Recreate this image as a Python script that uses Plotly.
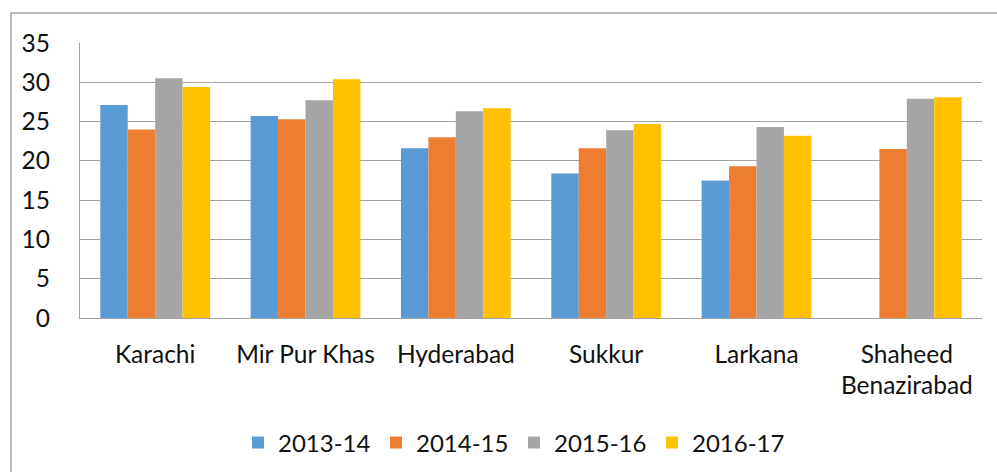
import plotly.graph_objects as go

categories = ["Karachi", "Mir Pur Khas", "Hyderabad", "Sukkur", "Larkana", "Shaheed<br>Benazirabad"]
series_names = ["2013-14", "2014-15", "2015-16", "2016-17"]
v_2013_14 = [27.1, 25.7, 21.6, 18.4, 17.5, None]
v_2014_15 = [24.0, 25.3, 23.0, 21.6, 19.3, 21.5]
v_2015_16 = [30.5, 27.7, 26.3, 23.9, 24.3, 27.9]
v_2016_17 = [29.4, 30.4, 26.7, 24.7, 23.2, 28.1]
y_ticks = [0, 5, 10, 15, 20, 25, 30, 35]

series_values = [v_2013_14, v_2014_15, v_2015_16, v_2016_17]
colors = ["#5B9BD5", "#ED7D31", "#A5A5A5", "#FFC000"]

FONT = "Lato"
FS = 24.5
W, H = 997, 472
L, R, T, B = 80, 15, 43, 154

fig = go.Figure()
for name, vals, col in zip(series_names, series_values, colors):
    fig.add_trace(go.Bar(x=categories, y=vals, name=name,
                         marker=dict(color=col, line=dict(width=0))))

grid = "#a3a3a3"
fig.update_layout(
    width=W, height=H,
    margin=dict(l=L, r=R, t=T, b=B, pad=0, autoexpand=False),
    paper_bgcolor="white", plot_bgcolor="white",
    barmode="group", bargap=0.27, bargroupgap=0,
    font=dict(family=FONT, size=FS, color="#111111"),
    showlegend=True,
    legend=dict(orientation="h", x=(254 - 80 - 16) / 902, xanchor="left",
                y=(318 - 443) / 275, yanchor="middle",
                font=dict(family=FONT, size=24, color="#111111"),
                entrywidth=93, bgcolor="rgba(0,0,0,0)", traceorder="normal"),
    xaxis=dict(showgrid=False, showline=True, linecolor=grid, linewidth=1.4,
               ticks="", tickfont=dict(size=FS), ticklabelstandoff=14,
               fixedrange=True, automargin=False),
    yaxis=dict(range=[0, 35], tickvals=y_ticks, showgrid=True, gridcolor=grid,
               gridwidth=1.4, showline=True, linecolor=grid, linewidth=1.4,
               zeroline=False, ticks="", ticklabelstandoff=24,
               tickfont=dict(size=FS), fixedrange=True, automargin=False),
)

# outer chart border (left and top edges)
x_left = (11 - L) / (W - L - R)
y_top = (H - B - 13) / (H - T - B)
fig.add_shape(type="path", xref="paper", yref="paper",
              path=f"M {x_left} -1 L {x_left} {y_top} L 1.1 {y_top}",
              line=dict(color="#a6a6a6", width=1.5))

fig.write_html("out.html",
               config={"displayModeBar": False},
               post_script="document.body.style.margin='0';document.body.style.overflow='hidden';")
